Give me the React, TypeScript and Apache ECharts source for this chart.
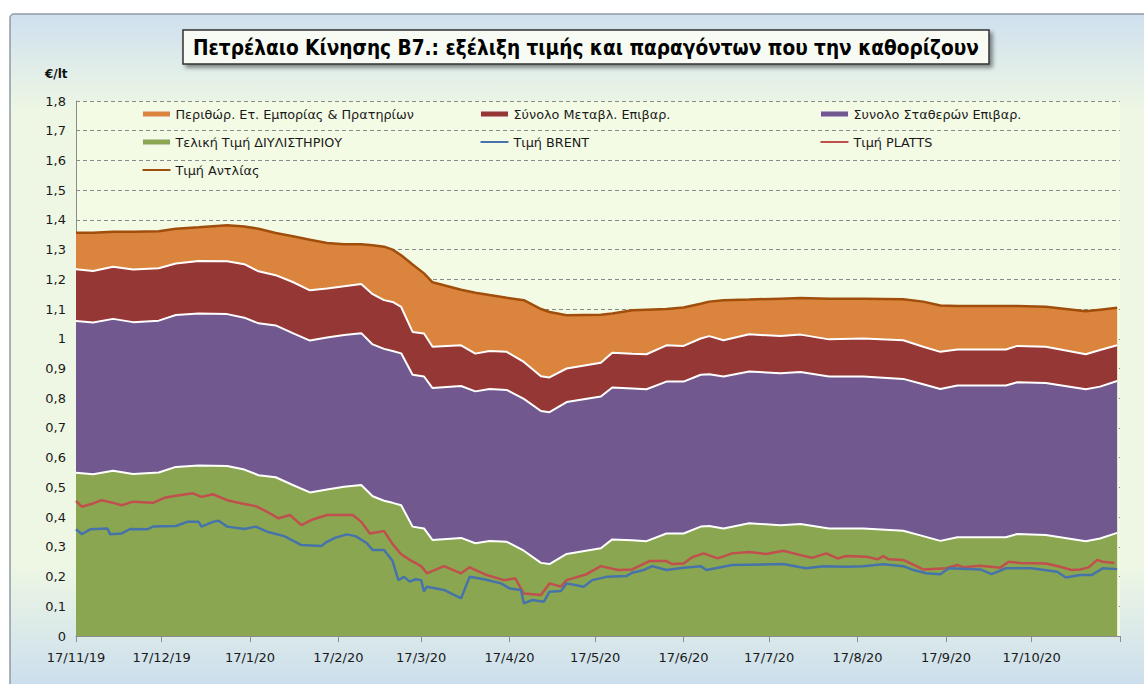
import React, { useEffect, useRef } from 'react';
import * as echarts from 'echarts';

// ---- categories: every day from 17/11/19 to 17/11/20 ----
const START = Date.UTC(2019, 10, 17);
const N_DAYS = 367;
const categories: string[] = Array.from({ length: N_DAYS }, (_, i) => {
  const d = new Date(START + i * 86400000);
  return `${d.getUTCDate()}/${d.getUTCMonth() + 1}/${String(d.getUTCFullYear()).slice(2)}`;
});

// ---- stacked components (day index from 17/11/19) ----
const areaDays = [0, 6, 13, 20, 29, 35, 43, 53, 59, 64, 70, 76, 82, 88, 94, 100, 104, 108, 111, 114, 118, 122, 125, 135, 140, 145, 151, 157, 163, 166, 172, 184, 188, 195, 200, 207, 213, 219, 222, 227, 236, 247, 254, 264, 276, 290, 297, 303, 309, 326, 330, 340, 354, 359, 365];
const refinery = [0.549, 0.544, 0.556, 0.545, 0.55, 0.569, 0.574, 0.572, 0.56, 0.541, 0.534, 0.508, 0.483, 0.493, 0.502, 0.508, 0.47, 0.455, 0.448, 0.44, 0.368, 0.362, 0.323, 0.33, 0.312, 0.32, 0.317, 0.287, 0.246, 0.242, 0.276, 0.295, 0.325, 0.322, 0.319, 0.345, 0.345, 0.368, 0.37, 0.362, 0.379, 0.373, 0.377, 0.362, 0.362, 0.354, 0.336, 0.32, 0.332, 0.332, 0.343, 0.34, 0.319, 0.328, 0.347];
const fixedTaxes = [0.511, 0.511, 0.511, 0.511, 0.511, 0.511, 0.511, 0.511, 0.511, 0.511, 0.511, 0.511, 0.511, 0.511, 0.511, 0.511, 0.511, 0.511, 0.511, 0.511, 0.511, 0.511, 0.511, 0.511, 0.511, 0.511, 0.511, 0.511, 0.511, 0.511, 0.511, 0.511, 0.511, 0.511, 0.511, 0.511, 0.511, 0.511, 0.511, 0.511, 0.511, 0.511, 0.511, 0.511, 0.511, 0.511, 0.511, 0.511, 0.511, 0.511, 0.511, 0.511, 0.511, 0.511, 0.511];
const variableTaxes = [0.174, 0.173, 0.175, 0.177, 0.176, 0.173, 0.177, 0.178, 0.18, 0.175, 0.169, 0.172, 0.169, 0.165, 0.164, 0.165, 0.169, 0.164, 0.165, 0.156, 0.144, 0.145, 0.139, 0.137, 0.127, 0.128, 0.128, 0.124, 0.117, 0.117, 0.113, 0.113, 0.117, 0.117, 0.118, 0.122, 0.12, 0.122, 0.128, 0.122, 0.125, 0.125, 0.126, 0.125, 0.128, 0.13, 0.126, 0.125, 0.121, 0.121, 0.122, 0.122, 0.118, 0.123, 0.12];
const margin = [0.123, 0.129, 0.118, 0.127, 0.125, 0.117, 0.113, 0.121, 0.127, 0.143, 0.142, 0.154, 0.17, 0.153, 0.141, 0.134, 0.165, 0.18, 0.176, 0.174, 0.227, 0.202, 0.217, 0.187, 0.205, 0.188, 0.182, 0.208, 0.226, 0.22, 0.179, 0.162, 0.132, 0.146, 0.15, 0.122, 0.129, 0.117, 0.116, 0.135, 0.117, 0.126, 0.123, 0.137, 0.134, 0.138, 0.152, 0.156, 0.146, 0.146, 0.134, 0.135, 0.145, 0.136, 0.126];
const pumpPrice = [1.357, 1.357, 1.36, 1.36, 1.362, 1.37, 1.375, 1.382, 1.378, 1.37, 1.356, 1.345, 1.333, 1.322, 1.318, 1.318, 1.315, 1.31, 1.3, 1.281, 1.25, 1.22, 1.19, 1.165, 1.155, 1.147, 1.138, 1.13, 1.1, 1.09, 1.079, 1.081, 1.085, 1.096, 1.098, 1.1, 1.105, 1.118, 1.125, 1.13, 1.132, 1.135, 1.137, 1.135, 1.135, 1.133, 1.125, 1.112, 1.11, 1.11, 1.11, 1.108, 1.093, 1.098, 1.104];

// ---- BRENT ----
const brentDays = [0, 2, 5, 11, 12, 16, 19, 25, 27, 35, 39, 43, 44, 48, 50, 53, 59, 63, 67, 73, 79, 86, 88, 91, 95, 98, 102, 104, 108, 111, 113, 115, 117, 119, 121, 122, 123, 129, 135, 138, 143, 149, 152, 156, 157, 160, 164, 166, 170, 172, 178, 181, 186, 193, 195, 199, 202, 207, 213, 219, 221, 230, 248, 254, 256, 262, 270, 276, 283, 290, 293, 298, 303, 306, 317, 321, 326, 335, 344, 347, 352, 356, 360, 365];
const brent = [0.359, 0.343, 0.359, 0.362, 0.342, 0.345, 0.36, 0.359, 0.368, 0.37, 0.384, 0.384, 0.368, 0.384, 0.388, 0.368, 0.36, 0.368, 0.351, 0.336, 0.306, 0.303, 0.317, 0.331, 0.342, 0.336, 0.312, 0.289, 0.289, 0.252, 0.188, 0.199, 0.183, 0.191, 0.188, 0.15, 0.166, 0.155, 0.127, 0.199, 0.191, 0.177, 0.16, 0.155, 0.11, 0.121, 0.115, 0.149, 0.151, 0.177, 0.166, 0.188, 0.199, 0.202, 0.213, 0.222, 0.235, 0.222, 0.23, 0.235, 0.222, 0.239, 0.242, 0.231, 0.228, 0.235, 0.233, 0.235, 0.241, 0.235, 0.224, 0.211, 0.208, 0.228, 0.224, 0.208, 0.228, 0.228, 0.216, 0.197, 0.205, 0.205, 0.228, 0.225];

// ---- PLATTS ----
const plattsDays = [0, 2, 6, 9, 13, 16, 20, 27, 31, 35, 41, 44, 48, 53, 59, 63, 67, 71, 75, 79, 83, 88, 94, 97, 100, 103, 108, 111, 114, 117, 121, 123, 129, 135, 138, 144, 150, 154, 157, 163, 166, 170, 172, 179, 184, 190, 195, 201, 207, 209, 213, 216, 220, 225, 230, 236, 242, 248, 254, 258, 263, 267, 270, 277, 281, 283, 285, 290, 297, 305, 309, 311, 317, 324, 327, 331, 340, 345, 349, 352, 355, 358, 360, 364];
const platts = [0.455, 0.435, 0.446, 0.457, 0.448, 0.44, 0.452, 0.448, 0.465, 0.472, 0.48, 0.468, 0.477, 0.457, 0.444, 0.437, 0.418, 0.396, 0.407, 0.373, 0.392, 0.407, 0.407, 0.407, 0.384, 0.345, 0.353, 0.309, 0.275, 0.256, 0.235, 0.211, 0.235, 0.211, 0.231, 0.205, 0.188, 0.194, 0.143, 0.138, 0.177, 0.166, 0.188, 0.208, 0.235, 0.222, 0.224, 0.252, 0.252, 0.242, 0.244, 0.265, 0.278, 0.261, 0.278, 0.283, 0.276, 0.287, 0.272, 0.263, 0.278, 0.261, 0.269, 0.267, 0.258, 0.269, 0.258, 0.256, 0.224, 0.228, 0.239, 0.231, 0.236, 0.23, 0.25, 0.246, 0.244, 0.233, 0.222, 0.224, 0.231, 0.256, 0.25, 0.246];

const NAMES = {
  margin: 'Περιθώρ. Ετ. Εμπορίας & Πρατηρίων',
  variable: 'Σύνολο Μεταβλ. Επιβαρ.',
  fixed: 'Συνολο Σταθερών Επιβαρ.',
  refinery: 'Τελική Τιμή ΔΙΥΛΙΣΤΗΡΙΟΥ',
  brent: 'Τιμή BRENT',
  platts: 'Τιμή PLATTS',
  pump: 'Τιμή Αντλίας',
};
const TITLE = 'Πετρέλαιο Κίνησης Β7.: εξέλιξη τιμής και παραγόντων που την καθορίζουν';
const UNIT = '€/lt';

const C = {
  green: '#8BA650',
  purple: '#71588F',
  red: '#953735',
  orange: '#DB843D',
  blue: '#4674AA',
  platts: '#C0504D',
  pump: '#A04E0C',
};

const pair = (days: number[], vals: number[]) => days.map((d, i) => [d, vals[i]]);

const FONT = '"DejaVu Sans", Verdana, sans-serif';
const LINE_ICON = 'path://M0,0L14,0L14,1L0,1Z';

export default function App() {
  const ref = useRef<HTMLDivElement>(null);
  useEffect(() => {
    if (!ref.current) return;
    const chart = echarts.init(ref.current, undefined, { renderer: 'svg' });
    const areaItem = (name: string, color: string) => ({
      name, icon: 'rect', itemStyle: { color, borderColor: '#f4f4f4', borderWidth: 1 },
    });
    const lineItem = (name: string, color: string) => ({
      name, icon: LINE_ICON, itemStyle: { color, borderWidth: 0 },
    });
    const legendBase = {
      orient: 'vertical' as const,
      top: 107,
      padding: 0,
      itemWidth: 28,
      itemHeight: 6,
      itemGap: 14,
      selectedMode: false,
      textStyle: { fontFamily: FONT, fontSize: 12.8, color: '#1a1a1a', lineHeight: 14 },
    };
    const areaSeries = (name: string, vals: number[], color: string, z: number) => ({
      name,
      type: 'line',
      stack: 'total',
      data: pair(areaDays, vals),
      symbol: 'none',
      color,
      lineStyle: { color: '#ffffff', width: 2 },
      areaStyle: { color, opacity: 1 },
      z,
      emphasis: { disabled: true },
    });
    const lineSeries = (name: string, data: number[][], color: string, z: number) => ({
      name,
      type: 'line',
      data,
      symbol: 'none',
      color,
      lineStyle: { color, width: 2.5 },
      z,
      emphasis: { disabled: true },
    });
    chart.setOption({
      animation: false,
      backgroundColor: '#ffffff',
      graphic: [
        {
          type: 'rect',
          z: -10,
          silent: true,
          shape: { x: 10, y: 14, width: 1200, height: 690, r: 4 },
          style: {
            fill: new echarts.graphic.LinearGradient(0, 0, 0, 1, [
              { offset: 0, color: '#cfe0ef' },
              { offset: 0.14, color: '#eef7e4' },
              { offset: 0.8, color: '#eef7e4' },
              { offset: 1, color: '#c6daee' },
            ]),
            stroke: '#8e9aa6',
            lineWidth: 1.5,
          },
        },
        {
          type: 'text',
          left: 45,
          top: 68,
          style: { text: UNIT, font: `bold 12px ${FONT}`, fill: '#111' },
        },
      ],
      title: {
        text: TITLE,
        left: 183,
        top: 30,
        padding: [7, 10, 6, 10],
        backgroundColor: '#f7fbf3',
        borderColor: '#333333',
        borderWidth: 1.5,
        shadowColor: 'rgba(0,0,0,0.45)',
        shadowBlur: 4,
        shadowOffsetX: 3,
        shadowOffsetY: 3,
        textStyle: {
          fontFamily: '"Liberation Sans Narrow", "DejaVu Sans Condensed", sans-serif',
          fontWeight: 'bold',
          fontSize: 20.6,
          color: '#000',
        },
      },
      legend: [
        { ...legendBase, left: 142, data: [areaItem(NAMES.margin, C.orange), areaItem(NAMES.refinery, C.green), lineItem(NAMES.pump, C.pump)] },
        { ...legendBase, left: 480, data: [areaItem(NAMES.variable, C.red), lineItem(NAMES.brent, C.blue)] },
        { ...legendBase, left: 820, data: [areaItem(NAMES.fixed, C.purple), lineItem(NAMES.platts, C.platts)] },
      ],
      grid: { left: 76, top: 101, width: 1044, height: 535, show: true, backgroundColor: '#F4FBE5', borderWidth: 0 },
      xAxis: {
        type: 'category',
        data: categories,
        boundaryGap: false,
        axisLine: { lineStyle: { color: '#8c8c8c', width: 1 } },
        axisTick: {
          interval: (_i: number, v: string) => v.startsWith('17/'),
          length: 6,
          lineStyle: { color: '#8c8c8c' },
        },
        axisLabel: {
          interval: (i: number, v: string) => v.startsWith('17/') && i < N_DAYS - 1,
          margin: 15,
          fontFamily: FONT,
          fontSize: 13,
          color: '#1a1a1a',
        },
        splitLine: { show: false },
      },
      yAxis: {
        type: 'value',
        min: 0,
        max: 1.8,
        interval: 0.1,
        axisLine: { show: true, lineStyle: { color: '#8c8c8c', width: 1 } },
        axisTick: { show: false },
        axisLabel: {
          formatter: (v: number) => String(Math.round(v * 10) / 10).replace('.', ','),
          fontFamily: FONT,
          fontSize: 13,
          color: '#1a1a1a',
          margin: 10,
        },
        splitLine: { lineStyle: { color: '#8a8a8a', type: [4, 3], width: 1 } },
      },
      series: [
        areaSeries(NAMES.refinery, refinery, C.green, 6),
        areaSeries(NAMES.fixed, fixedTaxes, C.purple, 5),
        areaSeries(NAMES.variable, variableTaxes, C.red, 4),
        { ...areaSeries(NAMES.margin, margin, C.orange, 3), lineStyle: { width: 0 } },
        lineSeries(NAMES.pump, pair(areaDays, pumpPrice), C.pump, 8),
        lineSeries(NAMES.brent, pair(brentDays, brent), C.blue, 10),
        lineSeries(NAMES.platts, pair(plattsDays, platts), C.platts, 9),
      ],
    });
    return () => chart.dispose();
  }, []);
  return <div ref={ref} style={{ position: 'absolute', left: 0, top: 0, width: 1144, height: 684 }} />;
}
